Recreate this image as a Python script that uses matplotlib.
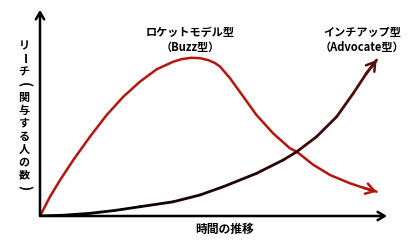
import numpy as np
import matplotlib
matplotlib.use("Agg")
import matplotlib.pyplot as plt
from matplotlib.collections import LineCollection
from matplotlib.colors import LinearSegmentedColormap

plt.rcParams['font.family'] = ['Noto Sans CJK JP', 'DejaVu Sans']

# ─── Datos (ejes 0..100) ──────────────────────────────────────────────────────
rocket_x = [0, 2.9, 5.8, 9.6, 14.4, 19.2, 24.0, 28.8, 33.6, 38.4, 41.0, 43.6, 46.2, 48.6,
            50.5, 51.9, 54.8, 58.6, 62.4, 67.2, 72.0, 74.0, 78.8, 83.6, 89.3, 93.2, 97.0]
rocket_y = [0, 9.4, 17.5, 27.2, 38.5, 49.0, 57.9, 65.2, 71.2, 74.9, 76.2, 76.8, 76.6, 75.6,
            74.2, 72.5, 66.8, 57.9, 49.0, 40.1, 32.9, 31.2, 24.8, 19.9, 15.9, 13.7, 11.8]

inchup_x = [0, 7.0, 14.4, 21.6, 28.8, 38.4, 46.1, 52.8, 62.4, 70.1, 74.0, 79.7, 85.5,
            90.3, 94.1, 97.0]
inchup_y = [0, 0.4, 1.3, 2.7, 4.5, 6.9, 10.2, 14.2, 20.7, 27.2, 31.2, 38.5, 48.2,
            59.6, 69.3, 75.7]

rocket_label = "ロケットモデル型\n（Buzz型）"
inchup_label = "インチアップ型\n（Advocate型）"
x_label = "時間の推移"
y_label = "リーチ(関与する人の数)"

RED = "#b5140f"
MAROON = "#5a0c0c"

fig = plt.figure(figsize=(4.2, 2.44), dpi=100, facecolor='white')
# origen en px (40,216), flecha x hasta 387, flecha y hasta 10
ax = fig.add_axes([40/420, (244-216)/244, 347/420, 206/244])
ax.set_xlim(0, 100)
ax.set_ylim(0, 100)
ax.axis('off')

# Curva roja (Buzz)
ax.plot(rocket_x, rocket_y, color=RED, lw=1.8, solid_capstyle='round',
        solid_joinstyle='round', zorder=3)
ax.annotate("", xy=(rocket_x[-1], rocket_y[-1]), xytext=(rocket_x[-2], rocket_y[-2]),
            arrowprops=dict(arrowstyle="-> ,head_length=0.6,head_width=0.38",
                            color=RED, lw=1.8, shrinkA=0, shrinkB=0), zorder=3)

# Curva oscura (Advocate) con degradado negro -> granate
pts = np.column_stack([inchup_x, inchup_y]).reshape(-1, 1, 2)
segs = np.concatenate([pts[:-1], pts[1:]], axis=1)
cmap = LinearSegmentedColormap.from_list("dk", ["#000000", "#1e0404", MAROON])
lc = LineCollection(segs, cmap=cmap, linewidths=2.0, capstyle='round', joinstyle='round', zorder=4)
lc.set_array(np.linspace(0, 1, len(segs)))
ax.add_collection(lc)
ax.annotate("", xy=(inchup_x[-1], inchup_y[-1]), xytext=(inchup_x[-2], inchup_y[-2]),
            arrowprops=dict(arrowstyle="-> ,head_length=0.6,head_width=0.38",
                            color=MAROON, lw=1.8, shrinkA=0, shrinkB=0), zorder=4)

# Ejes con flechas
axis_arrow = dict(arrowstyle="-> ,head_length=0.5,head_width=0.3", color="black",
                  lw=1.8, shrinkA=0, shrinkB=0)
ax.annotate("", xy=(100, 0), xytext=(0, 0), arrowprops=axis_arrow, zorder=5)
ax.annotate("", xy=(0, 100), xytext=(0, 0), arrowprops=axis_arrow, zorder=5)

# Textos
fig.text(190/420, 1 - 40/244, rocket_label, ha='center', va='center', fontsize=8,
         fontweight='bold', linespacing=1.25)
fig.text(362/420, 1 - 40/244, inchup_label, ha='center', va='center', fontsize=8,
         fontweight='bold', linespacing=1.25)
fig.text(225/420, 1 - 229/244, x_label, ha='center', va='center', fontsize=8.5,
         fontweight='bold')

# Texto vertical (tategaki): ー y paréntesis girados
y0, step = 46, 12.9
for i, ch in enumerate(y_label):
    rot = -90 if ch in "ー()" else 0
    fs = 10 if ch in "()" else 8
    fig.text(24/420, 1 - (y0 + i*step)/244, ch, ha='center', va='center', fontsize=fs,
             fontweight='bold', rotation=rot, rotation_mode='anchor')

fig.savefig("out.png", dpi=100, facecolor='white')
